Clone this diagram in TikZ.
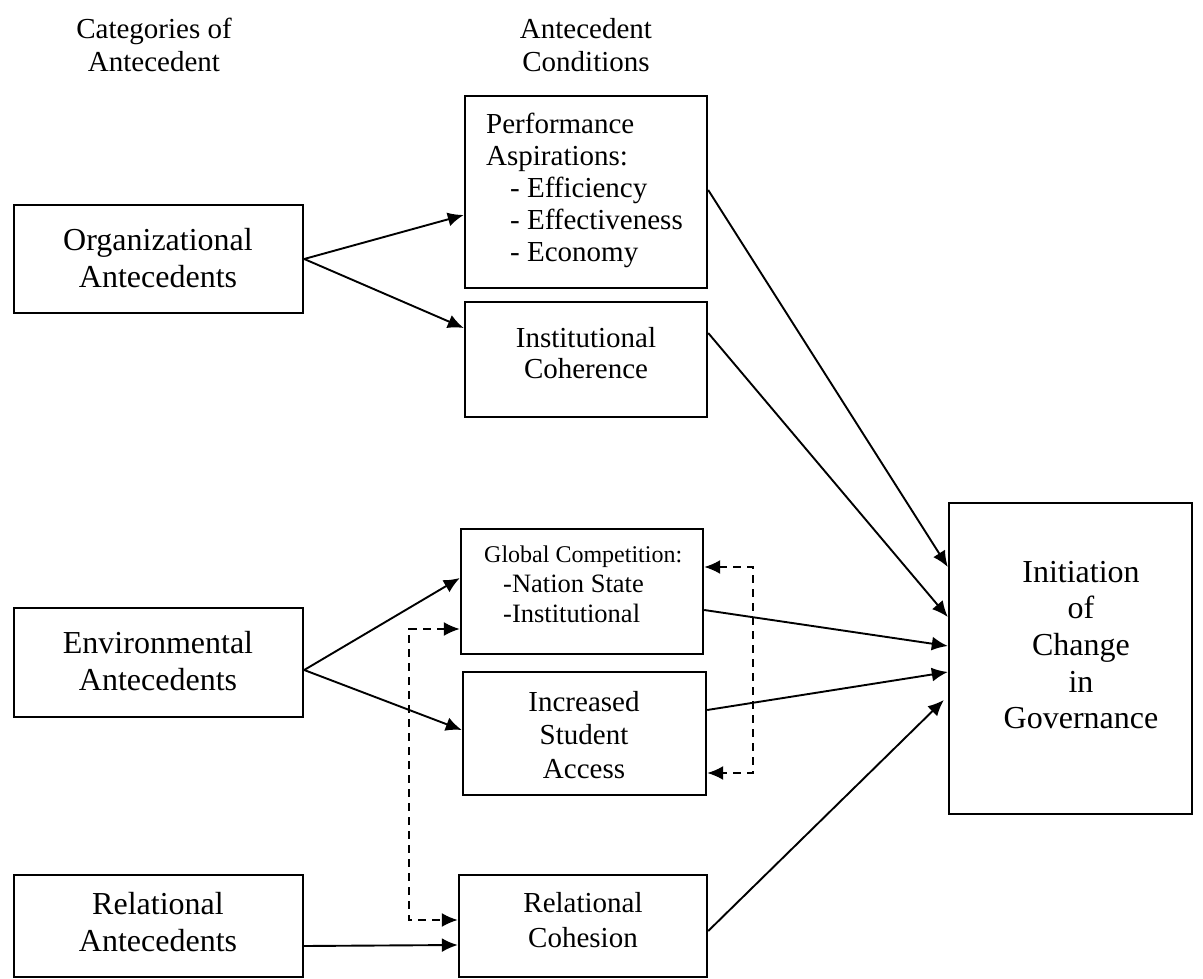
\documentclass[tikz,border=0pt]{standalone}
\usepackage{fontspec}
\setmainfont{Liberation Serif}
\usetikzlibrary{arrows.meta}

\begin{document}
\begin{tikzpicture}[x=1pt, y=-1pt,
    >={Latex[length=16pt,width=14pt]},   % Pfeilspitzen
    box/.style={draw, line width=2.4pt, inner sep=0pt},
    pfeil/.style={->, line width=1.9pt},
    strich/.style={line width=1.9pt, dash pattern=on 8pt off 6pt},
    gross/.style={font=\fontsize{32}{37}\selectfont, align=center, inner sep=0pt},
    mittel/.style={font=\fontsize{29}{33}\selectfont, align=center, inner sep=0pt}]
    \useasboundingbox (0,0) rectangle (1203,979);
    % Ueberschriften
    \node[mittel] (kopfA) at (154,45) {Categories of\\Antecedent};
    \node[mittel] (kopfB) at (586,45) {Antecedent\\Conditions};
    % Kategorien (links)
    \node[box, minimum width=289pt, minimum height=108pt] (org) at (158.5,259) {};
    \node[gross] (orgT) at (158,258) {Organizational\\Antecedents};
    \node[box, minimum width=289pt, minimum height=109pt] (env) at (158.5,662.5) {};
    \node[gross] (envT) at (158,661) {Environmental\\Antecedents};
    \node[box, minimum width=289pt, minimum height=102pt] (rel) at (158.5,926) {};
    \node[gross] (relT) at (158,922) {Relational\\Antecedents};
    % Bedingungen (Mitte)
    \node[box, minimum width=242pt, minimum height=192pt] (perf) at (586,192) {};
    \node[mittel, align=left, anchor=west, font=\fontsize{29}{32}\selectfont] (perfT) at (486,190)
        {Performance\\Aspirations:\\\hspace*{24pt}- Efficiency\\\hspace*{24pt}- Effectiveness\\\hspace*{24pt}- Economy};
    \node[box, minimum width=242pt, minimum height=115pt] (inst) at (586,359.5) {};
    \node[mittel, font=\fontsize{29}{31}\selectfont] (instT) at (586,353) {Institutional\\Coherence};
    \node[box, minimum width=242pt, minimum height=125pt] (glob) at (582,591.5) {};
    \node[mittel, align=left, anchor=west, font=\fontsize{26.5}{30}\selectfont] (globT) at (484,584)
        {{\fontsize{24}{30}\selectfont Global Competition:}\\\hspace*{19pt}-Nation State\\\hspace*{19pt}-Institutional};
    \node[box, minimum width=243pt, minimum height=123pt] (inc) at (584.5,733.5) {};
    \node[mittel, font=\fontsize{29}{33.5}\selectfont] (incT) at (584,735) {Increased\\Student\\Access};
    \node[box, minimum width=248pt, minimum height=102pt] (rc) at (583,926) {};
    \node[mittel, font=\fontsize{29}{35}\selectfont] (rcT) at (583,920) {Relational\\Cohesion};
    % Ergebnis (rechts)
    \node[box, minimum width=243pt, minimum height=311pt] (init) at (1070.5,658.5) {};
    \node[gross, font=\fontsize{32}{36.7}\selectfont] (initT) at (1081,645) {Initiation\\of\\Change\\in\\Governance};
    % Pfeile links -> Mitte
    \draw[pfeil] (org.east) -- ([yshift=-23pt]perf.west);
    \draw[pfeil] (org.east) -- ([yshift=31.5pt]inst.west);
    \draw[pfeil] ([yshift=-7.5pt]env.east) -- ([yshift=13.5pt]glob.west);
    \draw[pfeil] ([yshift=-7.5pt]env.east) -- ([yshift=3.5pt]inc.west);
    \draw[pfeil] ([yshift=-20pt]rel.east) -- ([yshift=-19pt]rc.west);
    % Pfeile Mitte -> rechts
    \draw[pfeil] ([yshift=2pt]perf.east) -- ([yshift=91.5pt]init.west);
    \draw[pfeil] ([yshift=26.5pt]inst.east) -- ([yshift=41.5pt]init.west);
    \draw[pfeil] ([yshift=-18.5pt]glob.east) -- ([yshift=12.5pt]init.west);
    \draw[pfeil] ([yshift=23.5pt]inc.east) -- ([yshift=-13.5pt]init.west);
    \draw[pfeil] ([yshift=-5pt]rc.east) -- ([xshift=-4pt,yshift=-41.5pt]init.west);
    % gestrichelte Rueckkopplungen
    \coordinate (rechtsD) at (753,0);
    \coordinate (linksD) at (409,0);
    \draw[strich, <->] ([yshift=24.5pt]glob.east) -- ([yshift=24.5pt]glob.east -| rechtsD)
        -- ([yshift=-39.5pt]inc.east -| rechtsD) -- ([yshift=-39.5pt]inc.east);
    \draw[strich, <->] ([yshift=-37.5pt]glob.west) -- ([yshift=-37.5pt]glob.west -| linksD)
        -- ([yshift=6pt]rc.west -| linksD) -- ([yshift=6pt]rc.west);
\end{tikzpicture}
\end{document}
